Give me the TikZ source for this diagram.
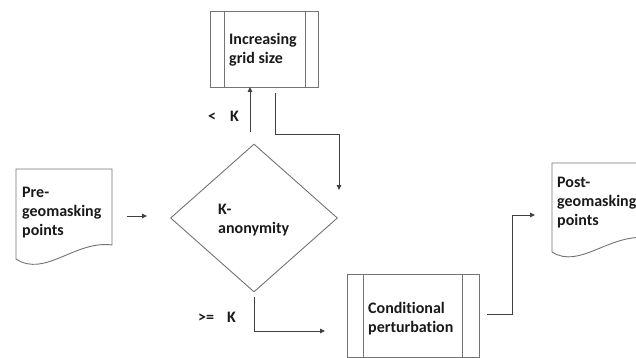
\documentclass[tikz,border=0pt]{standalone}
\usepackage{fontspec}
\setmainfont[Ligatures=NoCommon]{Carlito}
\usetikzlibrary{arrows.meta,shapes.geometric}
\begin{document}
\begin{tikzpicture}[x=1pt,y=-1pt,
  shapeline/.style={draw=black!55,line width=0.9pt},
  conn/.style={draw=black!75,line width=0.9pt},
  arr/.style={conn,-{Triangle[length=5pt,width=4.5pt]}},
  lbl/.style={font=\fontsize{16}{19}\selectfont\bfseries,text=black!90,inner sep=0pt,anchor=base west,align=left},
  small/.style={font=\fontsize{16}{19}\selectfont\bfseries,text=black!90,inner sep=0pt,anchor=base west}]
\useasboundingbox (0,0) rectangle (636,358);
\clip (0,0) rectangle (636,358);
% Pre-geomasking document
\draw[shapeline] (16,169) -- (112,169) -- (112,245)
  .. controls (75,240) and (45,278) .. (16,259) -- cycle;
\node[lbl] (pre) at (22,235) {Pre-\\geomasking\\points};
% Post-geomasking document
\draw[shapeline] (552,163) -- (650,163) -- (650,238)
  .. controls (610,232) and (580,270) .. (552,252) -- cycle;
\node[lbl] (post) at (557,225) {Post-\\geomasking\\points};
% diamond
\node[shapeline,diamond,minimum width=167pt,minimum height=148pt,inner sep=0pt] (kan) at (254,218) {};
\node[lbl] (kantext) at (218,233) {K-\\anonymity};
% Increasing grid size
\draw[shapeline] (210,11) rectangle (318,87);
\draw[shapeline] (224,11) -- (224,87) (305,11) -- (305,87);
\node[lbl] (inc) at (229,64) {Increasing\\grid size};
% Conditional perturbation
\draw[shapeline] (347,274) rectangle (479,357);
\draw[shapeline] (363,274) -- (363,357) (462,274) -- (462,357);
\node[lbl] (cond) at (368,332) {Conditional\\perturbation};
% labels
\node[small] (lt) at (208,122) {<\hspace{14pt}K};
\node[small] (ge) at (198,322) {>=\hspace{13pt}K};
% connector coordinates
\coordinate (a1) at (127,216);
\coordinate (a2) at (147,216);
\coordinate (b1) at (250,132);
\coordinate (b2) at (250,87);
\coordinate (c1) at (275,93);
\coordinate (c2) at (275,134);
\coordinate (c3) at (339,134);
\coordinate (c4) at (339,190);
\coordinate (d1) at (254,297);
\coordinate (d2) at (254,331);
\coordinate (d3) at (325,331);
\coordinate (e1) at (487,314);
\coordinate (e2) at (512,314);
\coordinate (e3) at (512,215);
\coordinate (e4) at (535,215);
\draw[arr] (a1) -- (a2);
\draw[arr] (b1) -- (b2);
\draw[arr] (c1) -- (c2) -- (c3) -- (c4);
\draw[arr] (d1) -- (d2) -- (d3);
\draw[arr] (e1) -- (e2) -- (e3) -- (e4);
\end{tikzpicture}
\end{document}
